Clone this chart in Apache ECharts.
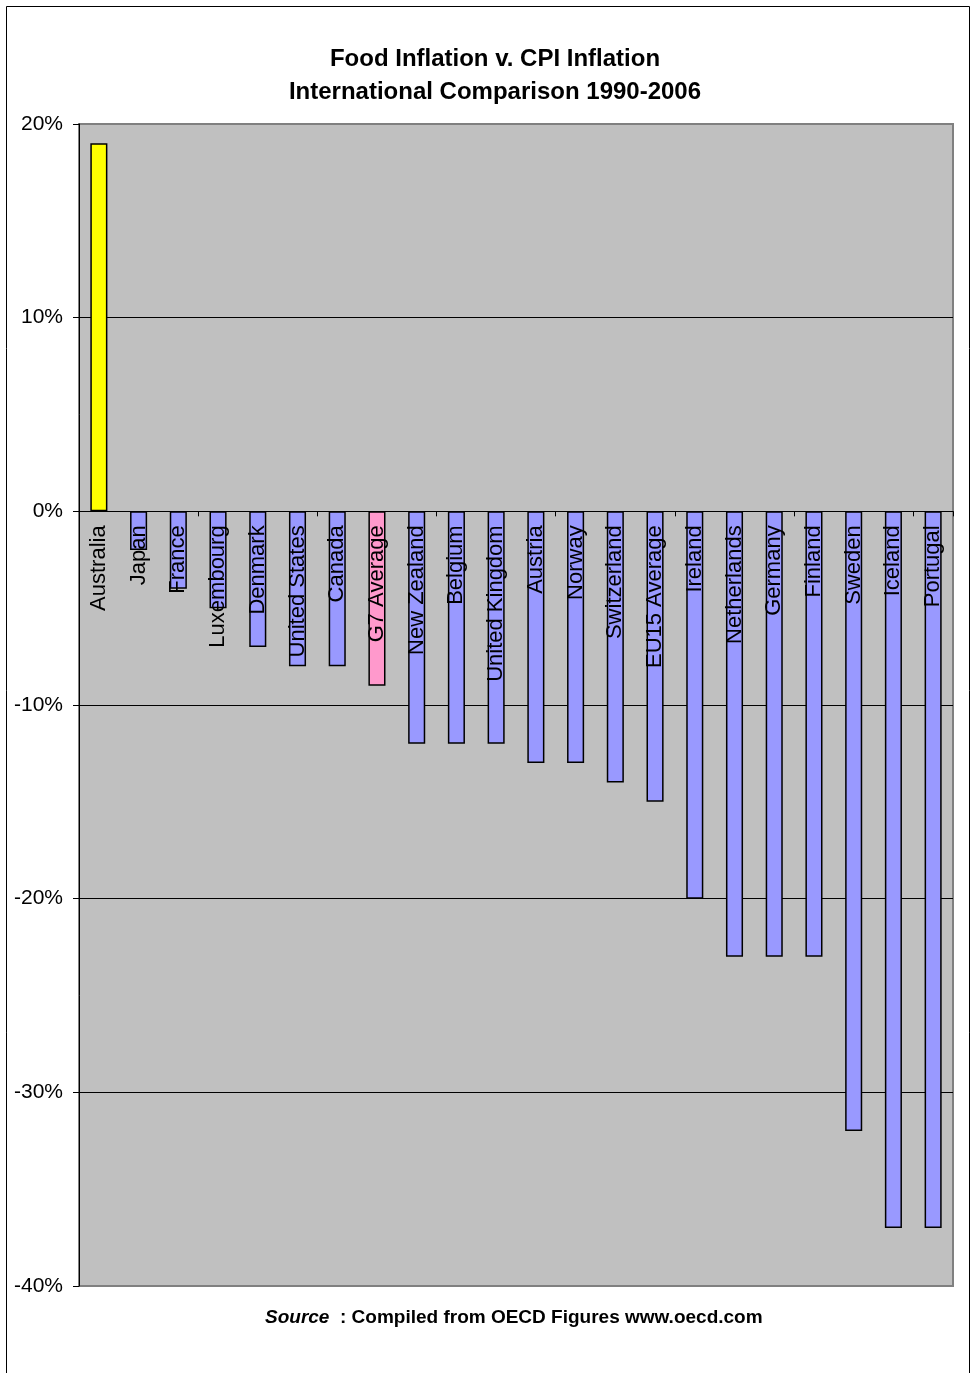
<!DOCTYPE html>
<html><head><meta charset="utf-8">
<script src="https://cdn.jsdelivr.net/npm/echarts@6/dist/echarts.min.js"></script>
<style>html,body{margin:0;padding:0;background:#fff}#c{width:973px;height:1373px}</style>
</head><body><div id="c"></div>
<script>
const categories = ["Australia","Japan","France","Luxembourg","Denmark","United States","Canada","G7 Average","New Zealand","Belgium","United Kingdom","Austria","Norway","Switzerland","EU15 Average","Ireland","Netherlands","Germany","Finland","Sweden","Iceland","Portugal"];
const values = [19,-2,-4,-5,-7,-8,-8,-9,-12,-12,-12,-13,-13,-14,-15,-20,-23,-23,-23,-32,-37,-37];
const yTicks = [-40,-30,-20,-10,0,10,20];
const barColors = {"Australia":"#FFFF00","G7 Average":"#FF99CC"};
const defaultColor = "#9999FF";

const chart = echarts.init(document.getElementById('c'));
const font = "Liberation Sans, Arial, sans-serif";
chart.setOption({
  animation:false,
  backgroundColor:'#fff',
  title:{
    text:"Food Inflation v. CPI Inflation\nInternational Comparison 1990-2006",
    left:490, top:38, textAlign:'center',
    textStyle:{fontFamily:font,fontWeight:'bold',fontSize:24,lineHeight:33,color:'#000'}
  },
  graphic:[
    {type:'rect',shape:{x:6.5,y:6.5,width:963,height:1400},style:{fill:null,stroke:'#000',lineWidth:1},z:-1},
    {type:'text',left:265,top:1308,style:{
      text:'{i|Source}{n|  : Compiled from OECD Figures www.oecd.com}',
      rich:{i:{fontFamily:font,fontWeight:'bold',fontStyle:'italic',fontSize:19,fill:'#000'},
            n:{fontFamily:font,fontWeight:'bold',fontSize:19,fill:'#000'}}
    }}
  ],
  grid:{left:79,right:20,top:124,bottom:87,containLabel:false,outerBoundsMode:'none',show:true,backgroundColor:'#C0C0C0',borderColor:'#808080',borderWidth:2},
  xAxis:{
    type:'category',data:categories,z:5,
    axisLine:{onZero:true,lineStyle:{color:'#000',width:1}},
    axisTick:{show:true,length:5,lineStyle:{color:'#000'}},
    axisLabel:{show:false}
  },
  yAxis:{
    type:'value',min:-40,max:20,interval:10,
    axisLine:{show:true,lineStyle:{color:'#000'}},
    axisTick:{show:true,length:6,lineStyle:{color:'#000'}},
    splitLine:{show:true,showMinLine:false,showMaxLine:false,lineStyle:{color:'#000',width:1}},
    axisLabel:{fontFamily:font,fontSize:21,color:'#000',margin:16,formatter:v=>yTicks.includes(v)?v+'%':''}
  },
  series:[{
    type:'bar',z:2,barWidth:'43%',
    data:values.map((v,i)=>({value:v,itemStyle:{color:barColors[categories[i]]||defaultColor}})),
    itemStyle:{borderColor:'#000',borderWidth:1.5}
  },{
    type:'custom',z:10,silent:true,
    data:categories.map((c,i)=>[i,0]),
    renderItem:function(params,api){
      const p = api.coord([api.value(0),0]);
      return {type:'text',x:p[0],y:p[1]+14,rotation:Math.PI/2,
        style:{text:categories[params.dataIndex],fontFamily:font,fontSize:22,fill:'#000',align:'right',verticalAlign:'middle'}};
    }
  }]
});
</script></body></html>
